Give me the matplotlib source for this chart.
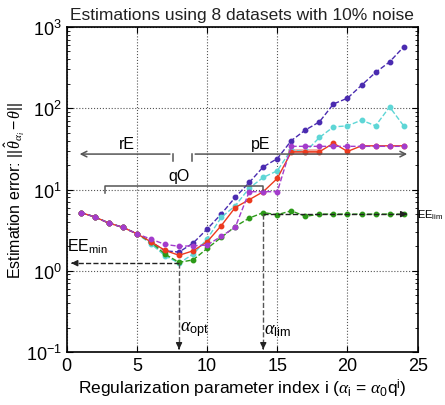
import matplotlib
matplotlib.use("Agg")
import matplotlib.pyplot as plt

plt.rcParams['font.family'] = ['Liberation Sans', 'DejaVu Sans']
plt.rcParams['mathtext.fontset'] = 'custom'
plt.rcParams['mathtext.rm'] = 'Liberation Sans'
plt.rcParams['mathtext.sf'] = 'Liberation Sans'
plt.rcParams['mathtext.it'] = 'Liberation Serif:italic'

# Datos (indice i = 1..24)
idx = list(range(1, 25))
comun = [5.2, 4.6, 3.86, 3.42, 2.85]
indigo = comun + [2.27, 1.76, 1.70, 2.19, 3.26, 4.98, 8.0, 12.2, 19.0, 24.0,
                  40.0, 54.0, 68.0, 113.0, 133.0, 192.0, 276.0, 372.0, 569.0]
cian = comun + [2.15, 1.53, 1.24, 1.60, 2.45, 4.53, 6.3, 10.4, 14.1, 17.0,
                31.0, 29.0, 43.7, 59.0, 60.8, 71.4, 60.8, 104.0, 60.8]
verde = comun + [2.25, 1.60, 1.27, 1.36, 1.88, 2.57, 3.5, 4.45, 5.2, 4.9,
                 5.47, 4.67, 4.98, 4.98, 4.98, 4.98, 4.98, 4.98, 4.98]
rojo = comun + [2.27, 1.78, 1.55, 1.76, 2.27, 3.58, 6.0, 7.5, 9.4, 13.7,
                29.1, 29.1, 29.1, 37.2, 29.4, 34.5, 34.5, 34.5, 34.5]
magenta = comun + [2.45, 2.11, 2.0, 2.03, 2.07, 2.65, 3.42, 9.4, 9.4, 9.4,
                   34.0, 34.0, 34.0, 34.0, 34.0, 34.0, 34.0, 34.0, 34.0]

i_opt, ee_min = 8, 1.24
i_lim, ee_lim = 14, 4.98

fig = plt.figure(figsize=(4.45, 4.06), dpi=100)
ax = fig.add_axes([0.15, 0.1305, 0.7886, 0.8005])

ax.plot(idx, indigo, '--o', color='#4a2bb0', lw=1, ms=3.2)
ax.plot(idx, cian, '--o', color='#5ed6d6', lw=1, ms=3.2)
ax.plot(idx, verde, '--o', color='#2c9a18', lw=1, ms=3.2)
# tramo resaltado de la curva roja
ax.plot(idx[15:18], rojo[15:18], '-', color='#f2a49a', lw=4, zorder=1)
ax.plot(idx, rojo, '-o', color='#ec3a1e', lw=1, ms=3.2)
ax.plot(idx, magenta, '--o', color='#a33ccc', lw=1, ms=3.2)

ax.set_yscale('log')
ax.set_xlim(0, 25)
ax.set_ylim(0.1, 1000)
ax.set_xticks([0, 5, 10, 15, 20, 25])
ax.tick_params(which='both', direction='in', top=True, right=True, labelsize=13)
ax.tick_params(which='major', length=4)
ax.tick_params(which='minor', length=2)
ax.grid(True, which='major', linestyle=':', color='#555555', lw=0.8)
for s in ax.spines.values():
    s.set_linewidth(1.2)

ax.set_title("Estimations using 8 datasets with 10% noise", fontsize=12.5, color='#222222')
ax.set_xlabel(r"Regularization parameter index i ($\alpha_{\mathrm{i}}$ = $\alpha_{\mathrm{0}}$q$^{\mathrm{i}}$)",
              fontsize=12.5, labelpad=2)
ax.set_ylabel(r"Estimation error: $||\hat{\theta}_{\alpha_i} - \theta||$", fontsize=11.5)
ax.yaxis.set_label_coords(-0.113, 0.5)

gris = '#555555'
# rE y pE
ax.annotate('', xy=(0.72, 27.3), xytext=(7.55, 27.3),
            arrowprops=dict(arrowstyle='->', color=gris, lw=1.1))
ax.plot([7.55, 7.55], [27.3, 22.5], color=gris, lw=1.1)
ax.text(4.3, 30, 'rE', fontsize=11.5, ha='center', va='bottom')
ax.annotate('', xy=(24.45, 27.3), xytext=(8.95, 27.3),
            arrowprops=dict(arrowstyle='->', color=gris, lw=1.1))
ax.plot([8.95, 8.95], [27.3, 22.5], color=gris, lw=1.1)
ax.text(13.8, 30, 'pE', fontsize=11.5, ha='center', va='bottom')
# qO
ax.plot([2.73, 2.73, 13.96, 13.96], [9.0, 11.1, 11.1, 10.0], color=gris, lw=1.1)
ax.text(8.0, 12.0, 'qO', fontsize=11.5, ha='center', va='bottom')

# EE_min y alpha_opt
ax.plot([i_opt, 0.5], [ee_min, ee_min], '--', color='#222222', lw=1)
ax.annotate('', xy=(0.12, ee_min), xytext=(0.6, ee_min),
            arrowprops=dict(arrowstyle='-|>', color='#222222', lw=1, mutation_scale=9))
ax.plot([i_opt, i_opt], [ee_min, 0.115], '--', color=gris, lw=1)
ax.annotate('', xy=(i_opt, 0.1), xytext=(i_opt, 0.12),
            arrowprops=dict(arrowstyle='-|>', color='#222222', lw=1, mutation_scale=9))
ax.text(0.05, 1.55, r'EE$_{\mathrm{min}}$', fontsize=11.5, ha='left', va='bottom')
ax.text(i_opt + 0.05, 0.15, r'$\alpha_{\mathrm{opt}}$', fontsize=13, ha='left', va='bottom')

# EE_lim y alpha_lim
ax.plot([i_lim, 24.0], [ee_lim, ee_lim], '--', color='#222222', lw=1)
ax.annotate('', xy=(24.45, ee_lim), xytext=(23.9, ee_lim),
            arrowprops=dict(arrowstyle='-|>', color='#222222', lw=1, mutation_scale=9))
ax.plot([i_lim, i_lim], [ee_lim, 0.115], '--', color=gris, lw=1)
ax.annotate('', xy=(i_lim, 0.1), xytext=(i_lim, 0.12),
            arrowprops=dict(arrowstyle='-|>', color='#222222', lw=1, mutation_scale=9))
ax.text(24.97, ee_lim, r'EE$_{\mathrm{lim}}$', fontsize=8, ha='left', va='center', clip_on=False)
ax.text(i_lim + 0.05, 0.15, r'$\alpha_{\mathrm{lim}}$', fontsize=13, ha='left', va='bottom')

fig.savefig('out.png', dpi=100)
